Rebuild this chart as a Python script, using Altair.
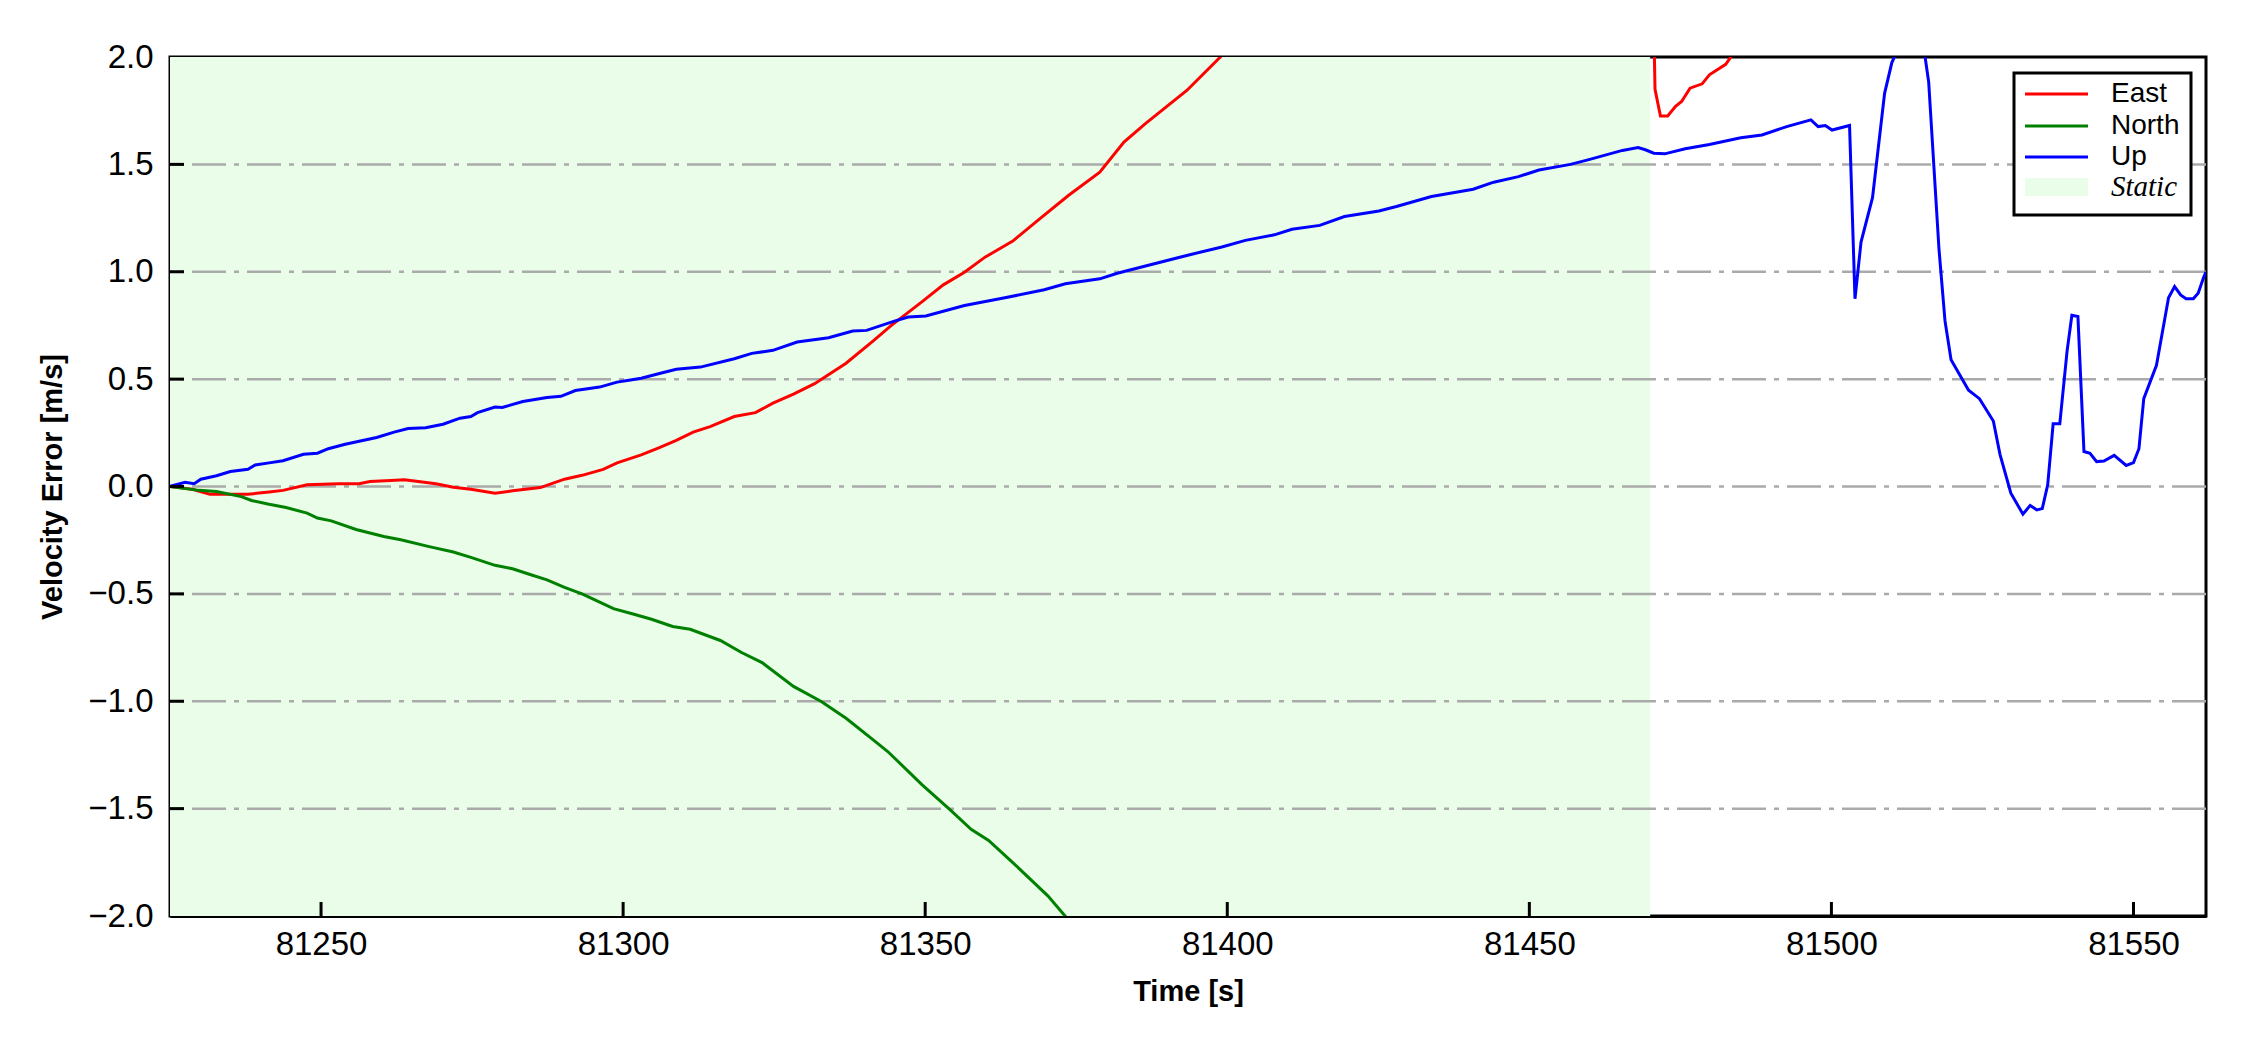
import altair as alt
import pandas as pd

# ---------------- data ----------------
series_names = ["East", "North", "Up"]
series_colors = ["#ff0000", "#008000", "#0000ff"]
static_label = "Static"
static_start = 81225.0
static_end = 81470.0

east_t = [81224.9, 81228.7, 81231.6, 81237.9, 81241.4, 81243.7, 81247.7, 81252.9, 81256.3,
          81258.1, 81261.5, 81263.8, 81266.1, 81269.0, 81271.9, 81274.8, 81278.8, 81281.7,
          81286.3, 81290.3, 81293.2, 81296.7, 81299.0, 81303.0, 81305.9, 81308.8, 81311.6,
          81314.4, 81318.4, 81321.9, 81324.8, 81328.2, 81331.7, 81336.9, 81341.5, 81344.4,
          81349.5, 81353.0, 81356.5, 81359.9, 81364.5, 81369.1, 81373.7, 81378.9, 81382.9,
          81386.4, 81393.3, 81399.1, 81403.0, 81470.3, 81470.8, 81471.7, 81472.9, 81474.2,
          81475.2, 81476.6, 81478.6, 81479.8, 81482.5, 81483.6, 81486.0]
east_v = [0.0, -0.013, -0.036, -0.036, -0.026, -0.018, 0.008, 0.013, 0.013,
          0.023, 0.028, 0.031, 0.023, 0.013, -0.003, -0.013, -0.031, -0.02,
          -0.005, 0.034, 0.052, 0.08, 0.11, 0.147, 0.18, 0.215, 0.253,
          0.279, 0.326, 0.344, 0.388, 0.43, 0.479, 0.574, 0.68, 0.75,
          0.861, 0.939, 0.998, 1.068, 1.143, 1.25, 1.355, 1.464, 1.604,
          1.689, 1.844, 2.007, 2.12, 2.6, 1.85, 1.725, 1.725, 1.77,
          1.793, 1.855, 1.875, 1.917, 1.966, 2.01, 2.08]

north_t = [81224.9, 81229.8, 81232.7, 81236.8, 81238.5, 81241.4, 81244.2, 81247.7, 81249.4,
           81251.7, 81255.8, 81260.4, 81263.2, 81267.9, 81271.9, 81274.8, 81278.8, 81281.7,
           81284.6, 81287.4, 81290.3, 81293.2, 81295.5, 81298.4, 81301.8, 81304.7, 81308.2,
           81311.1, 81316.1, 81319.6, 81323.0, 81328.2, 81332.8, 81336.9, 81341.5, 81343.8,
           81349.5, 81354.1, 81357.6, 81360.5, 81364.5, 81370.3, 81373.7, 81376.0]
north_v = [0.0, -0.018, -0.023, -0.047, -0.065, -0.083, -0.098, -0.124, -0.147,
           -0.16, -0.2, -0.233, -0.248, -0.28, -0.305, -0.33, -0.367, -0.383,
           -0.41, -0.435, -0.47, -0.5, -0.53, -0.569, -0.595, -0.618, -0.652,
           -0.665, -0.717, -0.773, -0.82, -0.931, -1.001, -1.079, -1.182, -1.234,
           -1.389, -1.505, -1.596, -1.648, -1.751, -1.906, -2.018, -2.08]

up_t = [81224.9, 81227.5, 81229.0, 81230.1, 81232.7, 81235.0, 81237.9, 81239.1, 81241.4,
        81243.7, 81247.1, 81249.4, 81251.2, 81254.0, 81259.2, 81262.1, 81264.4, 81267.3,
        81270.2, 81273.0, 81274.8, 81275.9, 81278.8, 81280.0, 81283.4, 81287.4, 81289.7,
        81292.1, 81296.1, 81299.0, 81300.7, 81303.0, 81306.5, 81308.8, 81312.8, 81318.4,
        81321.3, 81324.8, 81328.8, 81334.0, 81338.0, 81340.3, 81344.9, 81347.2, 81350.1,
        81356.5, 81363.4, 81369.7, 81373.2, 81378.9, 81381.8, 81387.6, 81393.3, 81399.1,
        81403.0, 81407.8, 81410.7, 81415.3, 81419.4, 81425.1, 81428.0, 81433.8, 81440.7,
        81444.1, 81448.2, 81451.6, 81456.8, 81459.7, 81465.4, 81468.0, 81469.2, 81470.6,
        81472.4, 81475.8, 81479.8, 81485.0, 81488.5, 81492.6, 81496.6, 81497.8, 81499.0,
        81500.1, 81503.0, 81503.9, 81504.9, 81506.8, 81508.8, 81510.0, 81511.4, 81515.2,
        81516.1, 81517.8, 81518.8, 81519.8, 81522.7, 81524.5, 81526.8, 81527.9, 81529.7,
        81531.7, 81532.9, 81534.0, 81534.9, 81535.8, 81536.7, 81537.8, 81539.0, 81539.8,
        81540.8, 81541.8, 81542.8, 81543.9, 81545.1, 81546.8, 81548.8, 81550.0, 81550.9,
        81551.7, 81553.8, 81555.8, 81556.8, 81557.8, 81558.7, 81559.9, 81560.7, 81561.6,
        81562.0]
up_v = [0.0, 0.02, 0.013, 0.034, 0.05, 0.07, 0.08, 0.10, 0.11,
        0.12, 0.15, 0.155, 0.176, 0.197, 0.228, 0.253, 0.27, 0.274,
        0.29, 0.318, 0.326, 0.344, 0.37, 0.368, 0.396, 0.414, 0.42,
        0.447, 0.463, 0.486, 0.494, 0.504, 0.53, 0.546, 0.556, 0.595,
        0.62, 0.634, 0.673, 0.693, 0.724, 0.727, 0.77, 0.789, 0.794,
        0.843, 0.88, 0.916, 0.944, 0.967, 0.993, 1.035, 1.076, 1.115,
        1.146, 1.172, 1.198, 1.216, 1.257, 1.283, 1.304, 1.35, 1.384,
        1.417, 1.443, 1.474, 1.5, 1.521, 1.565, 1.578, 1.568, 1.552,
        1.549, 1.573, 1.593, 1.624, 1.637, 1.676, 1.707, 1.676, 1.681,
        1.66, 1.681, 0.874, 1.138, 1.345, 1.831, 1.974, 2.06, 2.06,
        1.883, 1.107, 0.771, 0.59, 0.448, 0.409, 0.305, 0.15, -0.031,
        -0.129, -0.088, -0.109, -0.103, 0.008, 0.292, 0.292, 0.629, 0.797,
        0.792, 0.163, 0.155, 0.116, 0.119, 0.145, 0.098, 0.111, 0.176,
        0.409, 0.564, 0.879, 0.931, 0.892, 0.874, 0.874, 0.9, 0.973,
        1.0]

x_ticks = [81250, 81300, 81350, 81400, 81450, 81500, 81550]
y_ticks = [-2.0, -1.5, -1.0, -0.5, 0.0, 0.5, 1.0, 1.5, 2.0]
x_domain = [81225, 81562]
y_domain = [-2.0, 2.0]
x_title = "Time [s]"
y_title = "Velocity Error [m/s]"

# ---------------- tables ----------------
lines_df = pd.concat([
    pd.DataFrame({"t": east_t, "v": east_v, "s": series_names[0]}),
    pd.DataFrame({"t": north_t, "v": north_v, "s": series_names[1]}),
    pd.DataFrame({"t": up_t, "v": up_v, "s": series_names[2]}),
], ignore_index=True)
static_df = pd.DataFrame({"t": [static_start], "t2": [static_end]})
xt_df = pd.DataFrame({"t": x_ticks})
inner_yt_df = pd.DataFrame({"v": y_ticks[1:-1]})
one = pd.DataFrame({"a": [0]})

W, H = 2036, 859
SANS = "Liberation Sans, Arial, sans-serif"

x_scale = alt.Scale(domain=x_domain, nice=False, zero=False)
y_scale = alt.Scale(domain=y_domain, nice=False, zero=False)
x_axis = alt.Axis(values=x_ticks, format="d", title=x_title, grid=False, ticks=False,
                  tickSize=0, labelPadding=12, labelFontSize=33, labelFont=SANS,
                  labelColor="black", titleFont=SANS, titleFontSize=29,
                  titleFontWeight="bold", titleColor="black", titlePadding=16,
                  domainColor="black", domainWidth=3)
y_axis = alt.Axis(values=y_ticks, format=".1f", title=y_title, grid=False, ticks=False,
                  tickSize=0, labelPadding=17, labelFontSize=33, labelFont=SANS,
                  labelColor="black", titleFont=SANS, titleFontSize=29,
                  titleFontWeight="bold", titleColor="black", titlePadding=20,
                  domainColor="black", domainWidth=3)

X = alt.X("t:Q", scale=x_scale, axis=x_axis)
Y = alt.Y("v:Q", scale=y_scale, axis=y_axis)

shade = alt.Chart(static_df).mark_rect(color="#e9fde9").encode(
    x=X, x2="t2:Q", y=alt.value(0), y2=alt.value(H))

grid = alt.Chart(inner_yt_df).mark_rule(color="#aaaaaa", strokeWidth=2.5,
                                        strokeDash=[34, 8, 5, 8]).encode(y=Y)

lines = alt.Chart(lines_df).mark_line(strokeWidth=3, clip=True).encode(
    x=X, y=Y,
    color=alt.Color("s:N", scale=alt.Scale(domain=series_names, range=series_colors), legend=None),
    order=alt.Order("t:Q"))

xticks = alt.Chart(xt_df).mark_rule(color="black", strokeWidth=3).encode(
    x=X, y=alt.value(H), y2=alt.value(H - 14))
yticks = alt.Chart(inner_yt_df).mark_rule(color="black", strokeWidth=3).encode(
    y=Y, x=alt.value(0), x2=alt.value(14))

# ---------------- legend (drawn by hand to allow the italic serif entry) ----------------
LX0, LX1, LY0, LY1 = 1844, 2021, 16, 158
SX0, SX1, TX = 1855, 1918, 1941
rows = [37, 69, 100, 130]

legend_box = alt.Chart(one).mark_rect(fill="white", stroke="black", strokeWidth=3).encode(
    x=alt.value(LX0), x2=alt.value(LX1), y=alt.value(LY0), y2=alt.value(LY1))
legend_parts = [legend_box]
for name, col, ry in zip(series_names, series_colors, rows):
    legend_parts.append(alt.Chart(one).mark_rule(color=col, strokeWidth=3).encode(
        x=alt.value(SX0), x2=alt.value(SX1), y=alt.value(ry)))
    legend_parts.append(alt.Chart(one).mark_text(
        text=name, align="left", baseline="middle", font=SANS, fontSize=28, color="black"
    ).encode(x=alt.value(TX), y=alt.value(ry)))
legend_parts.append(alt.Chart(one).mark_rect(fill="#e9fde9").encode(
    x=alt.value(SX0), x2=alt.value(SX1), y=alt.value(rows[3] - 9), y2=alt.value(rows[3] + 9)))
legend_parts.append(alt.Chart(one).mark_text(
    text=static_label, align="left", baseline="middle", font="Liberation Serif, Times New Roman, serif",
    fontStyle="italic", fontSize=29, color="black"
).encode(x=alt.value(TX), y=alt.value(rows[3])))

chart = alt.layer(shade, grid, lines, xticks, yticks, *legend_parts).properties(
    width=W, height=H,
    autosize=alt.AutoSizeParams(type="none"),
    padding={"left": 162, "top": 49, "right": 30, "bottom": 120},
    background="white",
).configure_view(stroke="black", strokeWidth=3)

chart.save("out.html", embed_options={"renderer": "svg", "actions": False})
